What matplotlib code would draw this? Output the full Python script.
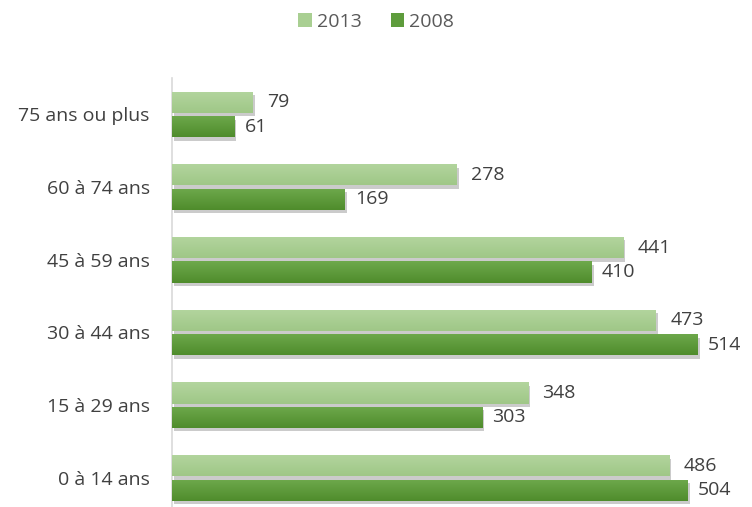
import numpy as np
import matplotlib
matplotlib.use("Agg")
from matplotlib import pyplot as plt
import matplotlib.patheffects as pe
from matplotlib.colors import LinearSegmentedColormap
from matplotlib.patches import Patch

plt.rcParams['font.family'] = ['Open Sans', 'DejaVu Sans']

# Data (bottom to top)
categories = ["0 à 14 ans", "15 à 29 ans", "30 à 44 ans", "45 à 59 ans", "60 à 74 ans", "75 ans ou plus"]
values_2013 = [486, 348, 473, 441, 278, 79]
values_2008 = [504, 303, 514, 410, 169, 61]
series_names = ["2013", "2008"]

light_cmap = LinearSegmentedColormap.from_list("light", ["#9fc787", "#b3d59e"])
dark_cmap = LinearSegmentedColormap.from_list("dark", ["#4f8c2c", "#6ea94c"])

fig = plt.figure(figsize=(7.52, 5.07), dpi=100)
ax = fig.add_axes([172 / 752, 0, 573 / 752, (507 - 78) / 507])

y = np.arange(len(categories))
h = 0.29
off = 0.168
fs = 14

def gradient_bars(ys, vals, cmap):
    bars = ax.barh(ys, vals, height=h, color=cmap(0.5), zorder=2,
                   path_effects=[pe.SimplePatchShadow(offset=(1.5, -2.5), shadow_rgbFace="#555555", alpha=0.3), pe.Normal()])
    grad = np.linspace(0, 1, 64).reshape(-1, 1)
    for b in bars:
        x0, y0 = b.get_x(), b.get_y()
        im = ax.imshow(grad, cmap=cmap, aspect="auto", origin="lower",
                       extent=[x0, x0 + b.get_width(), y0, y0 + b.get_height()], zorder=3)
        im.set_clip_path(b)
    return bars

gradient_bars(y + off, values_2013, light_cmap)
gradient_bars(y - off, values_2008, dark_cmap)

for yi, v in zip(y + off, values_2013):
    ax.text(v + 14, yi, str(v), va="center", ha="left", fontsize=fs, color="#404040")
for yi, v in zip(y - off, values_2008):
    ax.text(v + 10, yi, str(v), va="center", ha="left", fontsize=fs, color="#404040")

ax.set_xlim(0, 560)
ax.set_ylim(-0.4, 5.5)
ax.set_yticks(y)
ax.set_yticklabels(categories, fontsize=fs, color="#404040")
ax.tick_params(axis="y", length=0, pad=16)
ax.set_xticks([])
for s in ["top", "right", "bottom"]:
    ax.spines[s].set_visible(False)
ax.spines["left"].set_color("#d9d9d9")
ax.spines["left"].set_linewidth(1.2)

handles = [Patch(facecolor="#a9cf92"), Patch(facecolor="#5e9c3c")]
fig.legend(handles, series_names, loc="center", bbox_to_anchor=(0.5, 1 - 22 / 507), ncol=2,
           frameon=False, fontsize=fs, labelcolor="#595959", handlelength=0.7, handleheight=0.7,
           handletextpad=0.25, columnspacing=1.5)

fig.savefig("out.png", dpi=100)
